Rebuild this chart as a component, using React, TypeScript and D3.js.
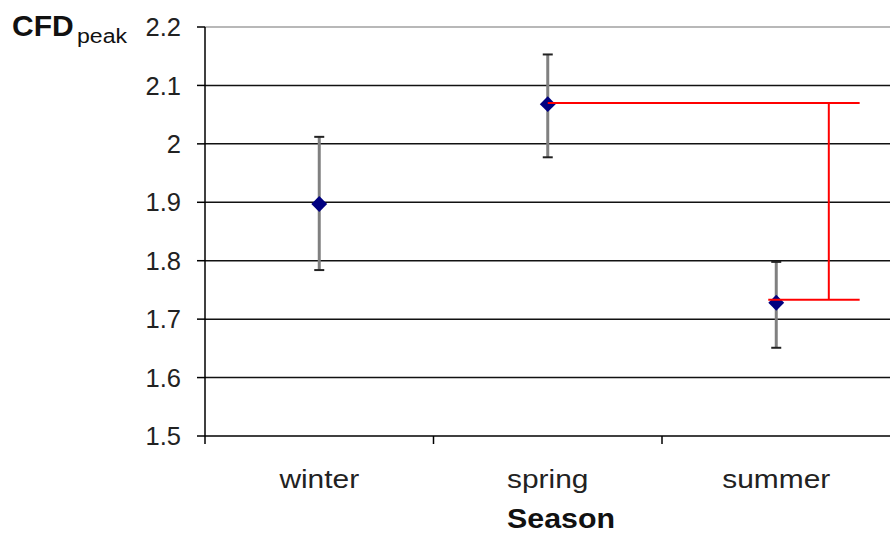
import React from "react";
import * as d3 from "d3";

const seasons = ["winter", "spring", "summer"];
const means = [1.897, 2.068, 1.728];
const upper = [2.012, 2.153, 1.798];
const lower = [1.784, 1.977, 1.651];
const yTicks = [1.5, 1.6, 1.7, 1.8, 1.9, 2.0, 2.1, 2.2];
const yTickLabels = ["1.5", "1.6", "1.7", "1.8", "1.9", "2", "2.1", "2.2"];
const bracketFrom = "spring";
const bracketTo = "summer";
const bracketHigh = 2.07;
const bracketLow = 1.733;

export default function App() {
  const W = 890, H = 535;
  const left = 205, right = 890.5, top = 27, bottom = 436;
  const x = d3.scaleBand().domain(seasons).range([left, right]);
  const y = d3.scaleLinear().domain([1.5, 2.2]).range([bottom, top]);
  const bw = x.bandwidth();
  const cx = (s: string) => (x(s) as number) + bw / 2;
  const font = "'Liberation Sans', Arial, sans-serif";
  const diamond = d3.symbol().type(d3.symbolDiamond2).size(160)() as string;

  const bx1 = cx(bracketFrom);
  const bxEnd = cx(bracketTo) + bw * 0.365;
  const bxV = cx(bracketTo) + bw * 0.23;
  const bxStart2 = cx(bracketTo) - bw * 0.035;

  return (
    <svg width={W} height={H} style={{ position: "absolute", left: 0, top: 0, background: "#fff" }}>
      {/* top border */}
      <line x1={left} x2={right} y1={y(2.2)} y2={y(2.2)} stroke="#a0a0a0" strokeWidth={1.5} />
      {/* gridlines */}
      {yTicks.filter((t) => t > 1.5 && t < 2.2).map((t) => (
        <line key={t} x1={left} x2={right} y1={y(t)} y2={y(t)} stroke="#111" strokeWidth={1.5} />
      ))}
      {/* y axis */}
      <line x1={left} x2={left} y1={top} y2={bottom} stroke="#000" strokeWidth={1.5} />
      {yTicks.map((t, i) => (
        <g key={"t" + t}>
          <line x1={left - 8} x2={left} y1={y(t)} y2={y(t)} stroke="#000" strokeWidth={1.5} />
          <text x={181} y={y(t)} dy="0.36em" textAnchor="end" fontFamily={font} fontSize={25.5} fill="#222">
            {yTickLabels[i]}
          </text>
        </g>
      ))}
      {/* x axis */}
      <line x1={left} x2={right} y1={bottom} y2={bottom} stroke="#000" strokeWidth={1.5} />
      {seasons.map((s) => (
        <g key={s}>
          <line x1={x(s) as number} x2={x(s) as number} y1={bottom} y2={bottom + 8} stroke="#000" strokeWidth={1.5} />
          <text transform={`translate(${cx(s)},488) scale(1.15,1)`} textAnchor="middle" fontFamily={font} fontSize={26} fill="#222">
            {s}
          </text>
        </g>
      ))}
      <text transform="translate(561,528) scale(1.085,1)" textAnchor="middle" fontFamily={font} fontSize={28} fontWeight="bold" fill="#111">
        Season
      </text>
      <text x={12} y={36} fontFamily={font} fontSize={30} fontWeight="bold" fill="#111">
        CFD
      </text>
      <text transform="translate(77,43) scale(1.1,1)" fontFamily={font} fontSize={21} fill="#111">
        peak
      </text>
      {/* error bars */}
      {seasons.map((s, i) => (
        <g key={"e" + s}>
          <line x1={cx(s)} x2={cx(s)} y1={y(upper[i])} y2={y(lower[i])} stroke="#808080" strokeWidth={3} />
          <line x1={cx(s) - 5} x2={cx(s) + 5} y1={y(upper[i])} y2={y(upper[i])} stroke="#222" strokeWidth={2} />
          <line x1={cx(s) - 5} x2={cx(s) + 5} y1={y(lower[i])} y2={y(lower[i])} stroke="#222" strokeWidth={2} />
        </g>
      ))}
      {/* markers */}
      {seasons.map((s, i) => (
        <path key={"m" + s} d={diamond} transform={`translate(${cx(s)},${y(means[i])})`} fill="#000080" />
      ))}
      {/* bracket */}
      <g stroke="#ff0000" strokeWidth={2} fill="none">
        <line x1={bx1} x2={bxEnd} y1={y(bracketHigh)} y2={y(bracketHigh)} />
        <line x1={bxStart2} x2={bxEnd} y1={y(bracketLow)} y2={y(bracketLow)} />
        <line x1={bxV} x2={bxV} y1={y(bracketHigh)} y2={y(bracketLow)} />
      </g>
    </svg>
  );
}
